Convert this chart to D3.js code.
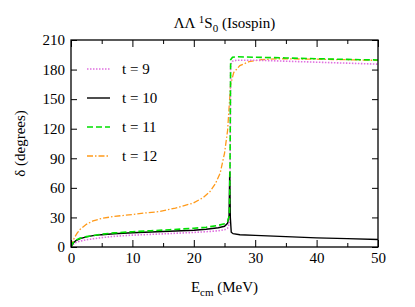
<!DOCTYPE html>
<html>
<head>
<meta charset="utf-8">
<script src="https://cdn.jsdelivr.net/npm/d3@7"></script>
<style>
  body { margin: 0; background: #fff; }
  svg, svg text, svg tspan { font-family: 'Liberation Serif' !important; }
  .axis path { stroke: #000; stroke-width: 1.3; }
  .axis line { stroke: #000; stroke-width: 1; }
</style>
</head>
<body>
<svg id="chart" width="415" height="307" font-family="Liberation Serif"></svg>
<script>
// energies (MeV) for each series
var e9  = [0, 0.3, 0.8, 1.5, 2.5, 3.6, 5, 7, 10, 13, 16, 20, 22, 24, 25, 25.5, 25.8, 25.9, 26.0, 26.3, 27, 30, 35, 40, 45, 50];
var d9  = [0, 2.5, 4.5, 6, 7.3, 8.3, 9.5, 10.8, 12, 12.8, 13.6, 14.8, 15.5, 16.5, 17.5, 19, 24, 60, 185, 188.5, 189.5, 189.5, 188.5, 187.5, 186.5, 185.5];

var e10 = [0, 0.3, 0.8, 1.5, 2.5, 3.6, 5, 7, 10, 13, 16, 20, 22, 24, 25, 25.5, 25.75, 25.85, 25.95, 26.1, 26.4, 27.5, 30, 35, 40, 45, 50];
var d10 = [0, 3.5, 6.5, 8.5, 10.3, 11.5, 12.5, 13.5, 14.5, 15.2, 16, 17, 18, 19.5, 21, 24, 32, 76, 30, 15, 13.5, 12.5, 11.8, 10.5, 9.3, 8.5, 7.6];

var e11 = [0, 0.3, 0.8, 1.5, 2.5, 3.6, 5, 7, 10, 13, 16, 20, 22, 24, 25, 25.5, 25.8, 25.9, 26.0, 26.3, 27, 30, 35, 40, 45, 50];
var d11 = [0, 4, 7, 9, 10.5, 11.5, 13, 14.3, 15.5, 16.5, 17.5, 19, 20, 22, 23.5, 26, 32, 80, 190, 192.5, 193, 192.5, 191.8, 191, 190.3, 189.7];

var e12 = [0, 0.3, 0.6, 1, 1.5, 2.5, 3.6, 5, 7, 10, 12, 14.5, 17, 19.9, 21.5, 22.6, 23.5, 24.3, 25, 25.5, 26, 26.5, 27.5, 29, 31, 34, 40, 45, 50];
var d12 = [0, 6, 10, 14, 18, 23, 26.5, 29, 31, 33, 34.5, 36, 39.5, 44.5, 50, 56, 64, 75, 95, 118, 165, 177, 184, 188, 190, 191, 190.5, 190, 189.3];

var seriesNames = ["t = 9", "t = 10", "t = 11", "t = 12"];
var seriesColors = ["#e070e0", "#000000", "#00e000", "#ff9a1a"];
var seriesDash = ["1.5,1.5", null, "6,3", "6,2,1.5,2"];
var seriesWidth = [1.6, 1.4, 1.6, 1.3];

var xTicks = [0, 10, 20, 30, 40, 50];
var xMinor = [5, 15, 25, 35, 45];
var yTicks = [0, 30, 60, 90, 120, 150, 180, 210];

var E = [e9, e10, e11, e12];
var D = [d9, d10, d11, d12];

var fontName = "'Liberation Serif'";
var svg = d3.select("#chart");
var pLeft = 71, pRight = 378, pTop = 40, pBottom = 247;

var x = d3.scaleLinear().domain([0, 50]).range([pLeft, pRight]);
var y = d3.scaleLinear().domain([0, 210]).range([pBottom, pTop]);

// curves, clipped to the frame
svg.append("clipPath").attr("id", "clip")
  .append("rect").attr("x", pLeft).attr("y", pTop).attr("width", pRight - pLeft).attr("height", pBottom - pTop);

var line = d3.line()
  .x(function(d) { return x(d[0]); })
  .y(function(d) { return y(d[1]); });

var plot = svg.append("g").attr("clip-path", "url(#clip)");
// draw order: t=12, t=9, t=10, t=11 on top
[3, 0, 1, 2].forEach(function(i) {
  var pts = d3.zip(E[i], D[i]);
  plot.append("path")
    .attr("d", line(pts))
    .attr("fill", "none")
    .attr("stroke", seriesColors[i])
    .attr("stroke-width", seriesWidth[i])
    .attr("stroke-dasharray", seriesDash[i]);
});

// axes with inward ticks
var fs = 15;
function styleLabels(g) {
  g.attr("font-family", "Liberation Serif").attr("font-size", fs);
  g.selectAll("text").attr("fill", "#000").style("font-family", fontName).style("font-size", fs + "px");
}
svg.append("g").attr("class", "axis")
  .attr("transform", "translate(0," + pBottom + ")")
  .call(d3.axisBottom(x).tickValues(xTicks).tickSize(-7).tickPadding(5))
  .call(styleLabels);
svg.append("g").attr("class", "axis")
  .attr("transform", "translate(0," + pBottom + ")")
  .call(d3.axisBottom(x).tickValues(xMinor).tickSize(-4).tickFormat(""));
svg.append("g").attr("class", "axis")
  .attr("transform", "translate(0," + pTop + ")")
  .call(d3.axisTop(x).tickValues(xTicks).tickSize(-7).tickFormat(""));
svg.append("g").attr("class", "axis")
  .attr("transform", "translate(0," + pTop + ")")
  .call(d3.axisTop(x).tickValues(xMinor).tickSize(-4).tickFormat(""));
svg.append("g").attr("class", "axis")
  .attr("transform", "translate(" + pLeft + ",0)")
  .call(d3.axisLeft(y).tickValues(yTicks).tickSize(-6).tickPadding(6))
  .call(styleLabels);
svg.append("g").attr("class", "axis")
  .attr("transform", "translate(" + pRight + ",0)")
  .call(d3.axisRight(y).tickValues(yTicks).tickSize(-6).tickFormat(""));
svg.selectAll(".axis .domain").remove();
svg.append("rect")
  .attr("x", pLeft).attr("y", pTop).attr("width", pRight - pLeft).attr("height", pBottom - pTop)
  .attr("fill", "none").attr("stroke", "#000").attr("stroke-width", 1.3);

// title
var title = svg.append("text").attr("x", (pLeft + pRight) / 2).attr("y", 28)
  .attr("text-anchor", "middle").style("font-family", fontName).style("font-size", "15px");
title.append("tspan").text("ΛΛ ");
title.append("tspan").attr("dy", -5).style("font-size", "11px").text("1");
title.append("tspan").attr("dy", 5).text("S");
title.append("tspan").attr("dy", 4).style("font-size", "11px").text("0");
title.append("tspan").attr("dy", -4).text(" (Isospin)");

// axis labels
var xl = svg.append("text").attr("x", (pLeft + pRight) / 2).attr("y", 292)
  .attr("text-anchor", "middle").style("font-family", fontName).style("font-size", "15px");
xl.append("tspan").text("E");
xl.append("tspan").attr("dy", 4).style("font-size", "11px").text("cm");
xl.append("tspan").attr("dy", -4).text(" (MeV)");

svg.append("text")
  .attr("transform", "translate(25," + ((pTop + pBottom) / 2) + ") rotate(-90)")
  .attr("text-anchor", "middle").style("font-family", fontName).style("font-size", "15px")
  .text("δ (degrees)");

// legend
var legY = [69, 98, 127, 156];
seriesNames.forEach(function(name, i) {
  svg.append("line")
    .attr("x1", 87).attr("x2", 110).attr("y1", legY[i]).attr("y2", legY[i])
    .attr("stroke", seriesColors[i]).attr("stroke-width", seriesWidth[i])
    .attr("stroke-dasharray", seriesDash[i]);
  svg.append("text").attr("x", 122).attr("y", legY[i] + 5)
    .style("font-family", fontName).style("font-size", "15px").text(name);
});
</script>
</body>
</html>
